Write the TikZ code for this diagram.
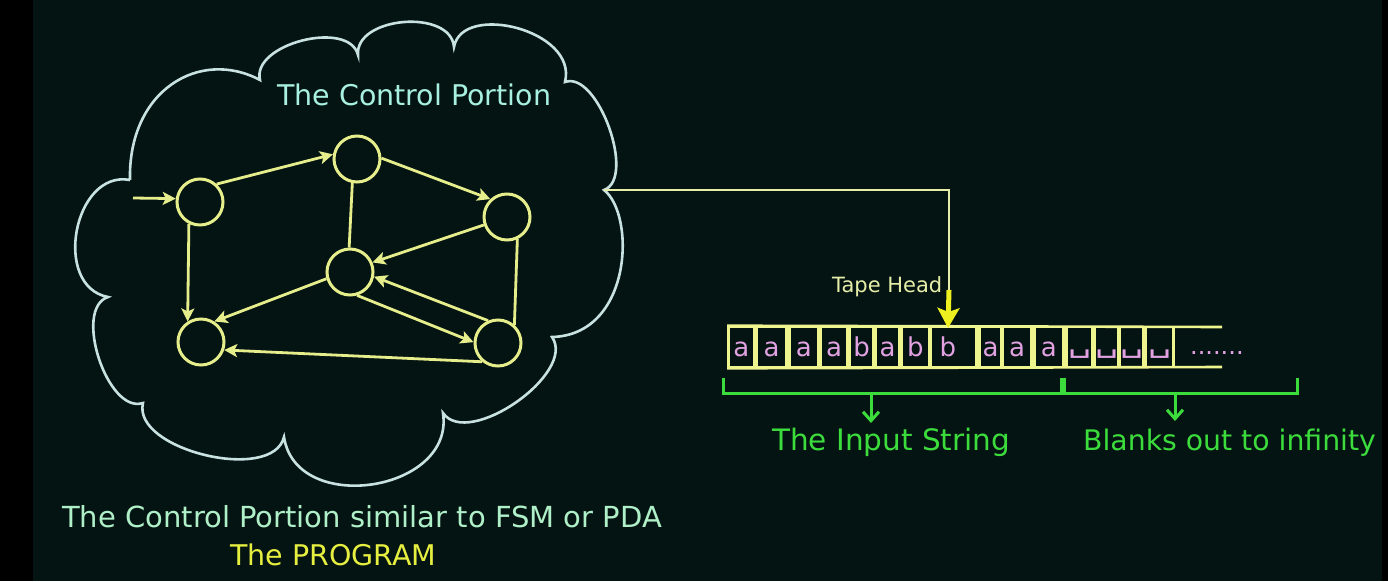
\documentclass[tikz,border=0pt]{standalone}
\usepackage{fontspec}
\setmainfont{DejaVu Sans}
\usetikzlibrary{arrows.meta}
\definecolor{bgc}{HTML}{041413}
\definecolor{cloudc}{HTML}{C8E2E2}
\definecolor{statec}{HTML}{E6EE8C}
\definecolor{tapec}{HTML}{EEF48E}
\definecolor{letterc}{HTML}{E2A2E2}
\definecolor{greenc}{HTML}{3CDC3C}
\definecolor{headc}{HTML}{EEF020}
\definecolor{titlec}{HTML}{A8F0E0}
\definecolor{captionc}{HTML}{B0F0C8}
\definecolor{progc}{HTML}{E6EE40}
\definecolor{tapeheadc}{HTML}{E6EEA8}
\newcommand{\blanksym}{\raisebox{4pt}{\scalebox{1.4}[1]{␣}}}
\begin{document}
\begin{tikzpicture}[x=1pt,y=-1pt,
  state/.style={circle, draw=statec, line width=3pt, minimum size=46pt, inner sep=0pt},
  edge/.style={draw=statec, line width=2.8pt},
  arr/.style={edge, -{Stealth[length=13pt,width=13pt,inset=3pt]}},
  cell/.style={draw=tapec, line width=2.6pt, rectangle, minimum height=40pt, inner sep=0pt,
    text=letterc, font=\fontsize{26}{26}\selectfont, text height=18pt, text depth=0pt},
  tapeline/.style={draw=tapec, line width=2.6pt},
  lbl/.style={inner sep=0pt, anchor=base west},
  brace/.style={draw=greenc, line width=3pt},
  garrow/.style={draw=greenc, line width=3pt, -{Straight Barb[length=9pt,width=16pt]}},
  cloudline/.style={draw=cloudc, line width=2.6pt},
  headline/.style={draw=tapeheadc, line width=2.6pt},
  headarrow/.style={draw=headc, line width=5pt, -{Stealth[length=20pt,width=22pt,inset=4pt]}}
]
\useasboundingbox (0,0) rectangle (1388,581);
\fill[black] (0,0) rectangle (1388,581);
\fill[bgc] (33,0) rectangle (1382,581);

% cloud
\draw[cloudline, line join=miter] (130,180) .. controls (128,90) and (200,48) .. (260,80)
  .. controls (251,44) and (349,19) .. (358,55)
  .. controls (354.8,16.4) and (450.8,8.4) .. (454,47)
  .. controls (462,2) and (578,30) .. (565,82)
  .. controls (597.6,70.2) and (636.6,178.2) .. (604,190)
  .. controls (636,215) and (632,335) .. (552,337)
  .. controls (577.2,373.1) and (468.2,449.1) .. (443,413)
  .. controls (454.9,492.1) and (295.9,516.1) .. (284,437)
  .. controls (272.7,483.7) and (131.7,449.7) .. (143,403)
  .. controls (107.6,414.7) and (72.6,308.7) .. (108,297)
  .. controls (51.7,286.4) and (73.7,169.4) .. (130,180);
\coordinate (cr) at (604,190);

% states
\node[state] (q0) at (200,202) {};
\node[state] (q1) at (357,159) {};
\node[state] (q2) at (507,217) {};
\node[state] (q3) at (350,272) {};
\node[state] (q4) at (201,342) {};
\node[state] (q5) at (498,343) {};
\coordinate (start) at (133,198);

\draw[arr] (start) -- (q0.172);
\draw[arr] (q0.47) -- (q1.169);
\draw[arr] (q1.2) -- (q2.133);
\draw[edge] (q1.259) -- (q3.92);
\draw[arr] (q2.199) -- (q3.23);
\draw[edge] (q2.-65) -- (q5.48);
\draw[arr] (q3.196) -- (q4.57);
\draw[arr] (q3.-73) -- (q5.178);
\draw[arr] (q5.114) -- (q3.-11);
\draw[arr] (q5.230) -- (q4.-19);
\draw[arr] (q0.243) -- (q4.123);

% texts
\node[lbl, text=titlec, font=\fontsize{28.5}{28}\selectfont] (title) at (277,105) {The Control Portion};
\node[lbl, text=captionc, font=\fontsize{29}{28}\selectfont] (caption) at (62,527) {The Control Portion similar to FSM or PDA};
\node[lbl, text=progc, font=\fontsize{28.5}{28}\selectfont] (prog) at (230,565) {The PROGRAM};

% tape
\node[cell, minimum width=26pt] (c1) at (741.3,347) {a};
\node[cell, minimum width=30pt] (c2) at (771.7,347) {a};
\node[cell, minimum width=29pt] (c3) at (803.8,347) {a};
\node[cell, minimum width=27pt] (c4) at (834.2,347) {a};
\node[cell, minimum width=23.3pt] (c5) at (861.7,347) {b};
\node[cell, minimum width=23pt] (c6) at (887.5,347) {a};
\node[cell, minimum width=27.3pt] (c7) at (915.3,347) {b};
\node[cell, minimum width=45.7pt] (c8) at (953.8,347) {b\hspace*{12pt}};
\node[cell, minimum width=22.4pt] (c9) at (990.5,347) {a};
\node[cell, minimum width=29pt] (c10) at (1017.2,347) {a};
\node[cell, minimum width=29pt] (c11) at (1048.8,347) {a};
\node[cell, minimum width=26pt] (c12) at (1079.7,347) {\blanksym};
\node[cell, minimum width=23.3pt] (c13) at (1106.7,347) {\blanksym};
\node[cell, minimum width=23.3pt] (c14) at (1131.7,347) {\blanksym};
\node[cell, minimum width=27.3pt] (c15) at (1159.7,347) {\blanksym};
\coordinate (tapeTR) at (1222,327);
\coordinate (tapeBR) at (1222,367);
\draw[tapeline] (c1.north west) -- (tapeTR);
\draw[tapeline] (c1.south west) -- (tapeBR);
\node[lbl, text=letterc, font=\fontsize{24}{24}\selectfont] (dots) at (1190,354) {.......};

% tape head
\coordinate (thk) at (949,290);
\coordinate (headtip) at (948,328);
\draw[headline] (cr) -| (thk);
\draw[headarrow] (thk) -- (headtip);
\node[lbl, text=tapeheadc, font=\fontsize{21}{21}\selectfont] (thead) at (832,292) {Tape Head};

% braces
\coordinate (bl1) at (723,378);
\coordinate (bl2) at (1061,378);
\coordinate (br1) at (1064,378);
\coordinate (br2) at (1297,378);
\draw[brace] (bl1) -- ++(0,15) -| (bl2);
\draw[brace] (br1) -- ++(0,15) -| (br2);
\coordinate (ia1) at (871,393);
\coordinate (ia2) at (871,423);
\coordinate (ba1) at (1175,393);
\coordinate (ba2) at (1175,421);
\draw[garrow] (ia1) -- (ia2);
\draw[garrow] (ba1) -- (ba2);
\node[lbl, text=greenc, font=\fontsize{29.5}{30}\selectfont] (input) at (772,450) {The Input String};
\node[lbl, text=greenc, font=\fontsize{28.3}{30}\selectfont] (blanks) at (1083,450) {Blanks out to infinity};
\end{tikzpicture}
\end{document}
